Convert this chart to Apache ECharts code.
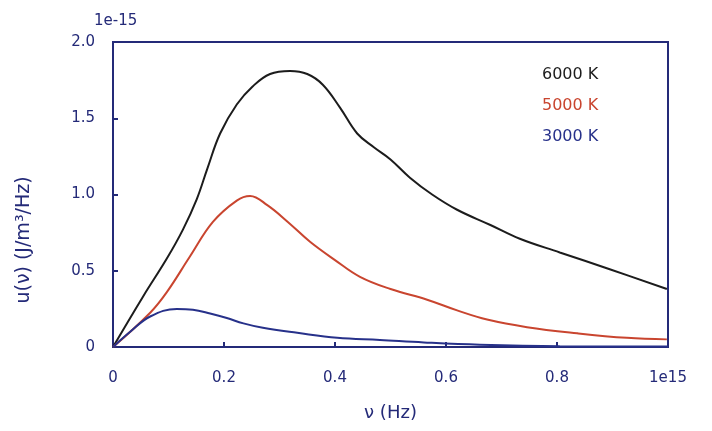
<!DOCTYPE html>
<html><head><meta charset="utf-8">
<script src="https://cdn.jsdelivr.net/npm/echarts@6/dist/echarts.min.js"></script>
<style>html,body{margin:0;padding:0;background:#fff}#c{width:712px;height:431px}</style>
</head><body><div id="c"></div>
<script>
// frequency in units of 1e15 Hz, energy density in units of 1e-15 J/m^3/Hz
const seriesNames = ['6000 K', '5000 K', '3000 K'];
const seriesColors = ['#1c1c1c', '#c9452f', '#27318a'];
const xTicks = [0, 0.2, 0.4, 0.6, 0.8, 1.0];
const yTicks = [0, 0.5, 1.0, 1.5, 2.0];
const black6000 = [[0,0],[0.054,0.33],[0.097,0.58],[0.126,0.77],[0.151,0.97],[0.170,1.17],[0.193,1.40],[0.223,1.59],[0.252,1.71],[0.283,1.79],[0.319,1.81],[0.350,1.79],[0.378,1.72],[0.409,1.57],[0.440,1.40],[0.470,1.31],[0.500,1.23],[0.535,1.11],[0.575,1.00],[0.620,0.90],[0.680,0.80],[0.733,0.71],[0.805,0.62],[0.895,0.51],[0.998,0.38]];
const red5000 = [[0,0],[0.067,0.225],[0.097,0.36],[0.138,0.59],[0.180,0.82],[0.223,0.96],[0.247,0.99],[0.278,0.93],[0.315,0.82],[0.355,0.69],[0.400,0.57],[0.445,0.46],[0.500,0.38],[0.566,0.31],[0.620,0.24],[0.674,0.18],[0.746,0.13],[0.836,0.09],[0.926,0.06],[0.998,0.05]];
const blue3000 = [[0,0],[0.031,0.10],[0.067,0.20],[0.115,0.25],[0.144,0.245],[0.175,0.22],[0.205,0.19],[0.235,0.155],[0.270,0.126],[0.332,0.093],[0.404,0.06],[0.481,0.046],[0.560,0.03],[0.661,0.015],[0.805,0.005],[1.0,0.003]];
const seriesData = [black6000, red5000, blue3000];

const axisColor = '#242a78';
const font = 'DejaVu Sans';
const chart = echarts.init(document.getElementById('c'));
chart.setOption({
  animation: false,
  backgroundColor: '#fff',
  grid: { left: 113, right: 44, top: 42, bottom: 84, show: true, borderColor: axisColor, borderWidth: 2 },
  legend: {
    orient: 'vertical', left: 532, top: 62, itemGap: 15, itemWidth: 0, itemHeight: 0, icon: 'none',
    data: seriesNames.map((n, i) => ({ name: n, textStyle: { color: seriesColors[i], fontSize: 16, fontFamily: font } }))
  },
  graphic: [
    { type: 'text', left: 94, top: 14, style: { text: '1e-15', fill: axisColor, font: '15px ' + font } },
    { type: 'text', x: 24, y: 240, rotation: Math.PI / 2,
      style: { text: 'u(ν) (J/m³/Hz)', fill: axisColor, font: '19px ' + font, align: 'center', verticalAlign: 'middle' } }
  ],
  xAxis: {
    type: 'value', min: xTicks[0], max: xTicks[xTicks.length - 1], interval: 0.2,
    name: 'ν (Hz)', nameLocation: 'middle', nameGap: 57,
    nameTextStyle: { color: axisColor, fontSize: 18, fontFamily: font },
    axisLine: { lineStyle: { color: axisColor, width: 2 } },
    axisTick: { inside: true, length: 5, lineStyle: { color: axisColor, width: 2 } },
    splitLine: { show: false },
    axisLabel: { color: axisColor, fontSize: 15, fontFamily: font, margin: 24,
      formatter: v => v === 0 ? '0' : (Math.abs(v - 1) < 1e-9 ? '1e15' : v.toFixed(1)) }
  },
  yAxis: {
    type: 'value', min: yTicks[0], max: yTicks[yTicks.length - 1], interval: 0.5,
    axisLine: { show: true, lineStyle: { color: axisColor, width: 2 } },
    axisTick: { show: true, inside: true, length: 5, lineStyle: { color: axisColor, width: 2 } },
    splitLine: { show: false },
    axisLabel: { color: axisColor, fontSize: 15, fontFamily: font, margin: 18,
      formatter: v => v === 0 ? '0' : v.toFixed(1) }
  },
  series: seriesNames.map((n, i) => ({
    name: n, type: 'line', data: seriesData[i], smooth: 0.4, showSymbol: false,
    lineStyle: { color: seriesColors[i], width: 2 }, itemStyle: { color: seriesColors[i] }
  }))
});
</script></body></html>
